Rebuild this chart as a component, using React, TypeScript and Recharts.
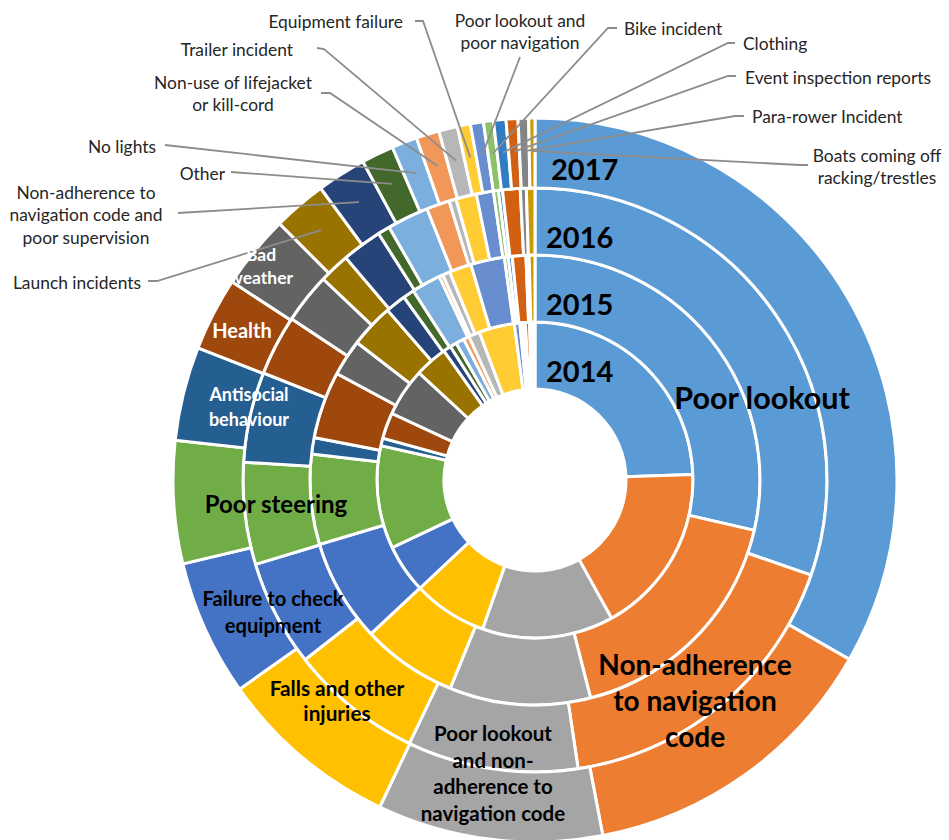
import { PieChart, Pie, Cell } from "recharts";

const categories = [
  "Poor lookout",
  "Non-adherence to navigation code",
  "Poor lookout and non-adherence to navigation code",
  "Falls and other injuries",
  "Failure to check equipment",
  "Poor steering",
  "Antisocial behaviour",
  "Health",
  "Bad weather",
  "Launch incidents",
  "Non-adherence to navigation code and poor supervision",
  "Other",
  "No lights",
  "Non-use of lifejacket or kill-cord",
  "Trailer incident",
  "Equipment failure",
  "Poor lookout and poor navigation",
  "Bike incident",
  "Clothing",
  "Event inspection reports",
  "Para-rower Incident",
  "Boats coming off racking/trestles",
];

const colors = [
  "#5B9BD5", "#ED7D31", "#A5A5A5", "#FFC000", "#4472C4", "#70AD47",
  "#255E91", "#9E480E", "#636363", "#997300", "#264478", "#43682B",
  "#7CAFDD", "#F1975A", "#B7B7B7", "#FFCD33", "#698ED0", "#8CC168",
  "#327DC2", "#D26012", "#848484", "#CC9A00",
];

const years = ["2014", "2015", "2016", "2017"];

// shares of each year's incidents
const share2014 = [87.5, 62.7, 48.1, 27.2, 17.8, 37.7, 2.8, 9.5, 17.7, 12, 2.8, 2.4, 3.1, 2.1, 4.1, 13, 2, 1, 1, 1.5, 1, 1];
const share2015 = [102.5, 62.5, 36.3, 24.6, 26.4, 23.2, 4.2, 17.3, 9.4, 11.3, 5.3, 2.9, 7.5, 1, 1.9, 5.7, 8.7, 1, 1, 3.5, 0.8, 1.5];
const share2016 = [109, 62.5, 34, 26.5, 21.2, 20.3, 18, 12, 10, 6.1, 8, 2.4, 8.3, 4.6, 1.4, 4.1, 3.4, 1, 0.8, 3.5, 1.2, 1.7];
const share2017 = [119.7, 49.5, 36.2, 29.3, 21.9, 19.7, 15.1, 11.8, 11.9, 8.6, 7.9, 5.2, 4.1, 3.7, 3, 2.1, 2.1, 1.6, 2, 1.9, 1.7, 1];

const shares = [share2014, share2015, share2016, share2017];

const CX = 535;
const CY = 480;
const rings = [
  [91, 158],
  [158, 225],
  [225, 292],
  [292, 362],
];

const FONT = "Lato, 'Open Sans', sans-serif";
const RAD = Math.PI / 180;

type Callout = {
  lines: string[];
  x: number;
  y: number;
  anchor: "start" | "middle" | "end";
  from: number[][];
};

// text placement for the small slices of the outer ring
const callouts: Record<string, Callout> = {
  "Launch incidents": { lines: ["Launch incidents"], x: 141, y: 282, anchor: "end", from: [[148, 281], [157, 281]] },
  "Non-adherence to navigation code and poor supervision": {
    lines: ["Non-adherence to", "navigation code and", "poor supervision"],
    x: 86, y: 192, anchor: "middle", from: [[178, 213]],
  },
  Other: { lines: ["Other"], x: 225, y: 173, anchor: "end", from: [[231, 172]] },
  "No lights": { lines: ["No lights"], x: 156, y: 146, anchor: "end", from: [[165, 145]] },
  "Non-use of lifejacket or kill-cord": {
    lines: ["Non-use of lifejacket", "or kill-cord"],
    x: 233, y: 82, anchor: "middle", from: [[321, 93], [330, 93]],
  },
  "Trailer incident": { lines: ["Trailer incident"], x: 293, y: 49, anchor: "end", from: [[317, 48], [324, 49]] },
  "Equipment failure": { lines: ["Equipment failure"], x: 403, y: 21, anchor: "end", from: [[415, 21], [423, 21]] },
  "Poor lookout and poor navigation": {
    lines: ["Poor lookout and", "poor navigation"],
    x: 520, y: 20, anchor: "middle", from: [[520, 57]],
  },
  "Bike incident": { lines: ["Bike incident"], x: 624, y: 28, anchor: "start", from: [[617, 28], [608, 28]] },
  Clothing: { lines: ["Clothing"], x: 743, y: 43, anchor: "start", from: [[735, 43], [728, 43]] },
  "Event inspection reports": { lines: ["Event inspection reports"], x: 745, y: 77, anchor: "start", from: [[736, 76], [728, 76]] },
  "Para-rower Incident": { lines: ["Para-rower Incident"], x: 752, y: 116, anchor: "start", from: [[744, 116], [735, 116]] },
  "Boats coming off racking/trestles": {
    lines: ["Boats coming off", "racking/trestles"],
    x: 877, y: 155, anchor: "middle", from: [[808, 165], [800, 165]],
  },
};

type InnerLabel = { lines: string[]; dx: number; dy: number; size: number; lh: number; color: string };

// big-slice labels drawn across the rings, offsets from the centre
const innerLabels: Record<string, InnerLabel> = {
  "Poor lookout": { lines: ["Poor lookout"], dx: 227, dy: -83, size: 30.5, lh: 0, color: "#000" },
  "Non-adherence to navigation code": {
    lines: ["Non-adherence", "to navigation", "code"], dx: 160, dy: 184, size: 28, lh: 36, color: "#000",
  },
  "Poor lookout and non-adherence to navigation code": {
    lines: ["Poor lookout", "and non-", "adherence to", "navigation code"], dx: -42, dy: 253, size: 20.5, lh: 26.7, color: "#000",
  },
  "Falls and other injuries": { lines: ["Falls and other", "injuries"], dx: -198, dy: 207, size: 20.8, lh: 25, color: "#000" },
  "Failure to check equipment": { lines: ["Failure to check", "equipment"], dx: -262, dy: 118, size: 20.2, lh: 27, color: "#000" },
  "Poor steering": { lines: ["Poor steering"], dx: -259, dy: 23, size: 24, lh: 0, color: "#000" },
  "Antisocial behaviour": { lines: ["Antisocial", "behaviour"], dx: -286, dy: -86, size: 18, lh: 25, color: "#fff" },
  Health: { lines: ["Health"], dx: -293, dy: -150, size: 20, lh: 0, color: "#fff" },
  "Bad weather": { lines: ["Bad", "weather"], dx: -274, dy: -226, size: 17.5, lh: 23, color: "#fff" },
};

const makeLabel = (ring: number) => (props: any) => {
  const { cx, cy, midAngle, index, innerRadius, outerRadius } = props;
  const parts: JSX.Element[] = [];
  if (index === 0) {
    const mid = (innerRadius + outerRadius) / 2;
    parts.push(
      <text
        key="year"
        x={cx + (ring === 3 ? 16 : 11)}
        y={cy - mid + 15}
        fontFamily={FONT}
        fontWeight={700}
        fontSize={29}
        fill="#000"
        dominantBaseline="central"
      >
        {years[ring]}
      </text>
    );
  }
  if (ring === 3) {
    const name = categories[index];
    const c = callouts[name];
    if (c) {
      const r = 329;
      const ax = cx + r * Math.cos(-midAngle * RAD);
      const ay = cy + r * Math.sin(-midAngle * RAD);
      const pts = [...c.from, [ax, ay]].map((p) => p.join(",")).join(" ");
      parts.push(<polyline key="line" points={pts} fill="none" stroke="#8C8C8C" strokeWidth={1.8} />);
      parts.push(
        <text key="t" textAnchor={c.anchor} fontFamily={FONT} fontSize={17.4} fill="#262626">
          {c.lines.map((l, i) => (
            <tspan key={i} x={c.x} y={c.y + i * 22.5} dominantBaseline="central">
              {l}
            </tspan>
          ))}
        </text>
      );
    }
    // big labels go last so the leader lines stay underneath them
    if (index === categories.length - 1) {
      categories.forEach((cat) => {
        const il = innerLabels[cat];
        if (!il) return;
        parts.push(
          <text key={"in-" + cat} textAnchor="middle" fontFamily={FONT} fontWeight={700} fontSize={il.size} fill={il.color}>
            {il.lines.map((l, i) => (
              <tspan key={i} x={cx + il.dx} y={cy + il.dy + i * il.lh} dominantBaseline="central">
                {l}
              </tspan>
            ))}
          </text>
        );
      });
    }
  }
  if (!parts.length) return null;
  return <g>{parts}</g>;
};

export default function App() {
  return (
    <div style={{ position: "absolute", left: 0, top: 0, width: 949, height: 840, background: "#fff" }}>
      <PieChart width={949} height={840} margin={{ top: 0, right: 0, bottom: 0, left: 0 }}>
        {shares.map((vals, ring) => (
          <Pie
            key={years[ring]}
            data={categories.map((name, i) => ({ name, value: vals[i] }))}
            dataKey="value"
            nameKey="name"
            cx={CX}
            cy={CY}
            innerRadius={rings[ring][0]}
            outerRadius={rings[ring][1]}
            startAngle={90}
            endAngle={-270}
            stroke="#fff"
            strokeWidth={3}
            label={makeLabel(ring)}
            labelLine={false}
            isAnimationActive={false}
          >
            {categories.map((name, i) => (
              <Cell key={name} fill={colors[i]} stroke="#fff" strokeWidth={3} />
            ))}
          </Pie>
        ))}
      </PieChart>
    </div>
  );
}
